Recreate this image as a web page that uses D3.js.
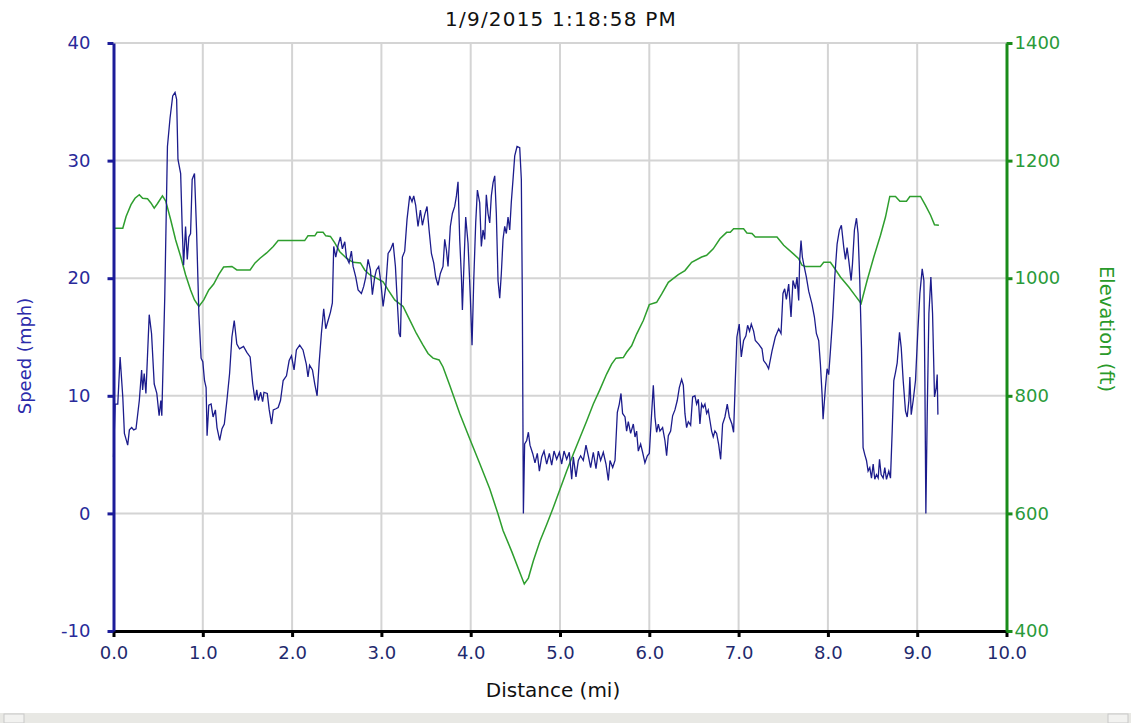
<!DOCTYPE html>
<html>
<head>
<meta charset="utf-8">
<script src="https://cdn.jsdelivr.net/npm/d3@7"></script>
<style>
  body { margin: 0; background: #fff; }
  text { font-family: "DejaVu Sans", Verdana, sans-serif; }
</style>
</head>
<body>
<div class="speed-figure"></div>
<script>
const w = 1131;
const h = 723;

// tick labels
const distTicks = [0, 1, 2, 3, 4, 5, 6, 7, 8, 9, 10];
const speedTicks = [-10, 0, 10, 20, 30, 40];
const elevTicks = [400, 600, 800, 1000, 1200, 1400];

// speed series (mi, mph)
const speedDist = [0.000, 0.019, 0.048, 0.074, 0.104, 0.122, 0.141, 0.159, 0.178, 0.204, 0.226, 0.252, 0.289, 0.315, 0.326, 0.344, 0.363, 0.400, 0.426, 0.456, 0.485, 0.511, 0.530, 0.541, 0.574, 0.604, 0.633, 0.663, 0.689, 0.707, 0.722, 0.752, 0.770, 0.785, 0.807, 0.826, 0.844, 0.863, 0.881, 0.907, 0.930, 0.956, 0.981, 1.000, 1.019, 1.037, 1.048, 1.067, 1.093, 1.115, 1.141, 1.159, 1.189, 1.215, 1.241, 1.270, 1.300, 1.326, 1.352, 1.381, 1.411, 1.456, 1.493, 1.530, 1.559, 1.585, 1.604, 1.622, 1.648, 1.670, 1.685, 1.722, 1.744, 1.770, 1.789, 1.819, 1.844, 1.870, 1.900, 1.937, 1.967, 1.993, 2.022, 2.048, 2.085, 2.122, 2.159, 2.178, 2.196,
  2.228, 2.254, 2.280, 2.302, 2.328, 2.354, 2.377, 2.403, 2.429, 2.451, 2.466, 2.489, 2.515, 2.541, 2.563, 2.590, 2.608, 2.638, 2.664, 2.683, 2.713, 2.739, 2.776, 2.802, 2.825, 2.851, 2.877, 2.899, 2.925, 2.944, 2.970, 2.993, 3.019, 3.049, 3.075, 3.101, 3.131, 3.157, 3.175, 3.198, 3.213, 3.235, 3.261, 3.287, 3.317, 3.343, 3.362, 3.384, 3.410, 3.437, 3.459, 3.485, 3.511, 3.534, 3.560, 3.586, 3.608, 3.634, 3.660, 3.690, 3.709, 3.728, 3.746, 3.772, 3.795, 3.821, 3.840, 3.858, 3.877, 3.896, 3.907, 3.925, 3.944, 3.970, 3.996, 4.015, 4.034, 4.056, 4.075, 4.101, 4.119, 4.138, 4.157, 4.175, 4.194, 4.213, 4.231, 4.250, 4.269, 4.287, 4.306, 4.325, 4.343, 4.362, 4.381, 4.399, 4.418, 4.437, 4.455, 4.474, 4.493, 4.519, 4.549, 4.567, 4.578, 4.590,
  4.604, 4.627, 4.646, 4.664, 4.694, 4.720, 4.746, 4.769, 4.795, 4.821, 4.851, 4.881, 4.907, 4.933, 4.963, 4.993, 5.019, 5.045, 5.075, 5.104, 5.131, 5.149, 5.179, 5.205, 5.231, 5.261, 5.291, 5.317, 5.343, 5.373, 5.403, 5.429, 5.455, 5.485, 5.515, 5.541, 5.560, 5.590, 5.616, 5.642, 5.664, 5.683, 5.701, 5.728, 5.746, 5.765, 5.791, 5.821, 5.840, 5.858, 5.877, 5.903, 5.925, 5.951, 5.978, 6.000, 6.019, 6.045, 6.063, 6.082, 6.101, 6.119, 6.149, 6.175, 6.194, 6.213, 6.239, 6.261, 6.287, 6.313, 6.336, 6.362, 6.381, 6.399, 6.418, 6.437, 6.463, 6.485, 6.511, 6.530, 6.549, 6.567, 6.586, 6.604, 6.623, 6.642, 6.660, 6.679, 6.698, 6.716, 6.735, 6.754, 6.776, 6.799, 6.821, 6.847, 6.873, 6.896,
  6.925, 6.944, 6.963, 6.981, 7.007, 7.030, 7.056, 7.082, 7.101, 7.123, 7.142, 7.168, 7.187, 7.224, 7.262, 7.280, 7.310, 7.336, 7.374, 7.411, 7.449, 7.475, 7.497, 7.516, 7.535, 7.561, 7.587, 7.609, 7.636, 7.654, 7.673, 7.684, 7.699, 7.714, 7.729, 7.759, 7.785, 7.822, 7.849, 7.871, 7.897, 7.916, 7.935, 7.946, 7.972, 7.991, 8.009, 8.028, 8.054, 8.077, 8.103, 8.129, 8.151, 8.178, 8.196, 8.215, 8.234, 8.260, 8.275, 8.297, 8.320, 8.338, 8.357, 8.376, 8.394, 8.413, 8.432, 8.450, 8.469, 8.488, 8.507, 8.525, 8.544, 8.563, 8.578, 8.596, 8.619, 8.637, 8.656, 8.682, 8.701, 8.720, 8.738, 8.757, 8.776, 8.802, 8.821, 8.843, 8.869, 8.888, 8.907, 8.918, 8.933, 8.955, 8.981, 9.007, 9.030, 9.056, 9.075, 9.086, 9.097, 9.112, 9.131, 9.153, 9.172, 9.194, 9.213, 9.224, 9.232];
const speedMph = [4.8, 9.3, 9.3, 13.3, 9.9, 6.8, 6.3, 5.8, 7.1, 7.3, 7.1, 7.2, 9.6, 12.2, 10.5, 11.9, 10.2, 16.9, 15.3, 11.0, 10.2, 8.3, 9.6, 8.3, 18.4, 31.2, 33.6, 35.5, 35.8, 35.2, 30.1, 28.9, 24.1, 21.1, 24.4, 21.6, 23.5, 23.8, 28.4, 28.9, 24.1, 17.0, 13.2, 12.9, 11.3, 10.7, 6.6, 9.2, 9.3, 8.2, 8.8, 7.3, 6.2, 7.2, 7.6, 9.6, 11.9, 15.0, 16.4, 14.4, 14.0, 14.2, 13.7, 13.3, 11.0, 9.6, 10.5, 9.6, 10.3, 9.5, 10.3, 10.2, 8.8, 7.6, 8.8, 8.9, 9.0, 9.6, 11.3, 11.7, 13.0, 13.4, 12.2, 13.9, 14.3, 13.9, 12.7, 11.6, 12.6,
  12.2, 11.0, 10.0, 12.7, 15.3, 17.4, 15.7, 16.4, 17.1, 17.9, 22.7, 21.8, 22.8, 23.5, 22.5, 23.1, 21.8, 21.3, 22.3, 21.0, 20.1, 19.0, 18.7, 19.3, 20.1, 21.6, 20.7, 18.6, 20.1, 20.7, 21.0, 19.7, 17.6, 19.3, 22.1, 22.4, 23.0, 21.0, 18.4, 15.3, 15.0, 21.8, 22.3, 25.0, 27.0, 26.5, 27.0, 26.2, 24.4, 25.8, 24.5, 25.4, 26.1, 24.1, 22.1, 21.3, 20.1, 19.4, 20.4, 21.0, 23.3, 22.4, 21.0, 24.4, 25.5, 26.1, 27.0, 28.2, 23.3, 20.1, 17.3, 21.3, 25.2, 23.0, 18.4, 14.3, 19.8, 24.7, 27.5, 26.4, 22.7, 24.1, 23.3, 27.1, 25.5, 24.7, 27.0, 28.1, 28.7, 25.5, 19.8, 18.3, 20.4, 23.3, 24.4, 23.8, 25.2, 24.1, 26.5, 28.4, 30.4, 31.2, 31.1, 28.4, 18.4, 0.0,
  5.9, 6.2, 6.9, 5.8, 5.1, 4.3, 5.1, 3.6, 4.8, 5.3, 4.2, 5.1, 4.1, 5.3, 4.6, 5.2, 4.2, 5.3, 4.6, 5.2, 2.9, 4.8, 3.1, 4.5, 4.9, 4.5, 5.8, 4.9, 3.9, 5.2, 3.8, 5.3, 4.5, 5.2, 4.2, 2.8, 4.5, 3.9, 4.5, 8.6, 9.3, 10.2, 8.5, 8.2, 7.0, 7.8, 6.8, 7.6, 6.5, 7.0, 5.3, 5.9, 5.2, 4.3, 4.9, 5.1, 7.6, 10.9, 8.2, 6.9, 7.6, 7.0, 7.3, 6.2, 4.9, 6.6, 7.0, 8.3, 8.8, 9.6, 10.7, 11.4, 10.9, 8.5, 7.3, 7.8, 7.5, 9.9, 10.0, 9.3, 9.7, 7.6, 9.3, 9.0, 9.3, 8.5, 8.8, 7.9, 7.0, 6.5, 7.0, 6.8, 5.9, 4.6, 7.6, 8.2, 9.3, 8.2,
  7.6, 6.9, 11.3, 15.0, 16.1, 13.3, 14.7, 15.1, 16.0, 15.5, 16.1, 15.5, 14.7, 14.4, 14.0, 13.0, 12.7, 12.3, 13.8, 15.0, 15.7, 15.3, 18.7, 19.1, 18.2, 19.5, 16.7, 19.8, 19.1, 20.1, 18.1, 21.5, 23.2, 21.8, 21.2, 20.1, 18.9, 17.8, 16.7, 15.3, 14.7, 12.7, 10.1, 8.0, 10.7, 12.3, 11.8, 13.8, 16.7, 20.1, 22.9, 24.1, 24.5, 22.6, 21.6, 22.6, 21.5, 19.8, 21.2, 24.1, 25.1, 23.8, 19.8, 14.1, 5.6, 5.0, 4.5, 3.6, 3.9, 3.0, 4.2, 2.9, 3.3, 3.0, 4.6, 3.3, 3.0, 3.9, 2.9, 3.6, 3.0, 7.0, 11.3, 12.0, 12.8, 15.4, 14.1, 11.3, 8.7, 8.2, 9.6, 11.6, 8.4, 9.6, 11.3, 15.5, 18.7, 20.8, 19.8, 11.3, 0.0, 8.4, 17.0, 20.1, 17.0, 9.9, 10.7, 11.8, 8.4];

// elevation series (mi, ft)
const elevDist = [0.000, 0.104, 0.141, 0.196, 0.241, 0.289, 0.326, 0.381, 0.419, 0.456, 0.493, 0.548, 0.585, 0.641, 0.696, 0.752, 0.807, 0.863, 0.907, 0.956, 1.011, 1.067, 1.122, 1.178, 1.233, 1.326, 1.381, 1.530, 1.585, 1.641, 1.715, 1.789, 1.844, 2.141, 2.178,
  2.254, 2.280, 2.347, 2.377, 2.429, 2.478, 2.534, 2.608, 2.683, 2.765, 2.813, 2.869, 2.944, 3.019, 3.075, 3.149, 3.243, 3.317, 3.392, 3.466, 3.522, 3.578, 3.646, 3.690, 3.765, 3.877, 3.989, 4.101, 4.213, 4.306, 4.362,
  4.460, 4.600, 4.646, 4.701, 4.776, 4.851, 4.925, 5.000, 5.075, 5.149, 5.224, 5.299, 5.373, 5.448, 5.522, 5.578, 5.627, 5.709, 5.746, 5.802, 5.858, 5.933, 6.000, 6.082, 6.138, 6.213, 6.325, 6.399, 6.474, 6.586, 6.642, 6.716, 6.791, 6.866,
  6.907, 6.944, 7.056, 7.093, 7.150, 7.187, 7.430, 7.505, 7.617, 7.673, 7.710, 7.748, 7.916, 7.953, 8.028, 8.065, 8.140, 8.234, 8.308, 8.372, 8.439, 8.514, 8.589, 8.645, 8.693, 8.757, 8.806, 8.880, 8.918, 9.037, 9.093, 9.150, 9.194, 9.243];
const elevFt = [1085, 1085, 1105, 1125, 1136, 1142, 1136, 1135, 1128, 1119, 1127, 1140, 1131, 1099, 1065, 1037, 1006, 980, 963, 952, 963, 980, 990, 1006, 1019, 1020, 1014, 1014, 1026, 1034, 1043, 1054, 1064, 1064, 1072,
  1072, 1078, 1078, 1072, 1071, 1060, 1045, 1034, 1027, 1026, 1014, 1006, 1000, 994, 980, 963, 952, 929, 906, 886, 872, 864, 861, 849, 818, 770, 727, 685, 642, 599, 571,
  535, 480, 490, 519, 553, 581, 610, 641, 672, 701, 729, 757, 786, 811, 837, 854, 864, 865, 874, 885, 905, 928, 955, 959, 973, 993, 1006, 1013, 1027, 1036, 1039, 1050, 1067, 1078,
  1078, 1084, 1084, 1077, 1076, 1070, 1070, 1056, 1041, 1033, 1022, 1020, 1020, 1027, 1027, 1019, 1002, 985, 970, 957, 996, 1036, 1073, 1104, 1139, 1139, 1131, 1131, 1139, 1139, 1124, 1107, 1091, 1090];

const speed = speedDist.map((d, i) => ({ dist: d, value: speedMph[i] }));
const elev = elevDist.map((d, i) => ({ dist: d, value: elevFt[i] }));

let svg = d3.select("body").select(".speed-figure")
    .append("svg")
    .attr("width", w)
    .attr("height", h);

svg.append("rect").attr("width", w).attr("height", h).attr("fill", "#fff");

let x = d3.scaleLinear().domain([0, 10]).range([113.5, 1006.5]);
let y = d3.scaleLinear().domain([-10, 40]).range([631, 43]);
let y2 = d3.scaleLinear().domain([400, 1400]).range([631, 43]);

// grid
svg.append("g")
    .selectAll("line")
    .data(distTicks.slice(1, -1))
    .enter()
    .append("line")
    .attr("x1", (d) => x(d)).attr("x2", (d) => x(d))
    .attr("y1", y(40)).attr("y2", y(-10))
    .attr("stroke", "#d4d4d4").attr("stroke-width", 2);

svg.append("g")
    .selectAll("line")
    .data(speedTicks.slice(1))
    .enter()
    .append("line")
    .attr("x1", x(0)).attr("x2", x(10))
    .attr("y1", (d) => y(d)).attr("y2", (d) => y(d))
    .attr("stroke", "#d4d4d4").attr("stroke-width", 2);

// lines
let speedLine = d3.line().x((d) => x(d.dist)).y((d) => y(d.value));
let elevLine = d3.line().x((d) => x(d.dist)).y((d) => y2(d.value));

svg.append("path")
    .datum(elev)
    .attr("d", elevLine)
    .attr("fill", "none")
    .attr("stroke", "#2e9e2e")
    .attr("stroke-width", 1.5);

svg.append("path")
    .datum(speed)
    .attr("d", speedLine)
    .attr("fill", "none")
    .attr("stroke", "#1c1c8c")
    .attr("stroke-width", 1.3);

// axes
let gx = svg.append("g")
    .attr("transform", "translate(0," + y(-10) + ")")
    .call(d3.axisBottom(x).tickValues(distTicks).tickFormat(d3.format(".1f")).tickSize(6).tickSizeOuter(0));
gx.select(".domain").attr("stroke", "#000").attr("stroke-width", 3);
gx.selectAll(".tick line").attr("stroke", "#000").attr("stroke-width", 3);
gx.selectAll(".tick text").attr("fill", "#1f2a6e").attr("font-size", 18)
    .attr("font-family", "DejaVu Sans").attr("dy", "1.05em");

let gl = svg.append("g")
    .attr("transform", "translate(" + x(0) + ",0)")
    .call(d3.axisLeft(y).tickValues(speedTicks).tickFormat((d) => String(d)).tickSize(6).tickSizeOuter(0));
gl.select(".domain").attr("stroke", "#1c1c99").attr("stroke-width", 3);
gl.selectAll(".tick line").attr("stroke", "#1c1c99").attr("stroke-width", 3);
gl.selectAll(".tick text").attr("fill", "#2a2a9a").attr("font-size", 18)
    .attr("font-family", "DejaVu Sans").attr("x", -23);

let gr = svg.append("g")
    .attr("transform", "translate(" + x(10) + ",0)")
    .call(d3.axisRight(y2).tickValues(elevTicks).tickFormat((d) => String(d)).tickSize(6).tickSizeOuter(0));
gr.select(".domain").attr("stroke", "#1a8c1a").attr("stroke-width", 3);
gr.selectAll(".tick line").attr("stroke", "#1a8c1a").attr("stroke-width", 3);
gr.selectAll(".tick text").attr("fill", "#2a9a3a").attr("font-size", 18)
    .attr("font-family", "DejaVu Sans").attr("x", 8);

// titles
svg.append("text")
    .attr("x", 561).attr("y", 26)
    .attr("text-anchor", "middle")
    .attr("font-size", 20)
    .attr("letter-spacing", 1.2)
    .attr("fill", "#111")
    .text("1/9/2015 1:18:58 PM");

svg.append("text")
    .attr("x", 553).attr("y", 697)
    .attr("text-anchor", "middle")
    .attr("font-size", 20)
    .attr("fill", "#111")
    .text("Distance (mi)");

svg.append("text")
    .attr("transform", "translate(31,356) rotate(-90)")
    .attr("text-anchor", "middle")
    .attr("font-size", 18)
    .attr("fill", "#2a2aaa")
    .text("Speed (mph)");

svg.append("text")
    .attr("transform", "translate(1100,329) rotate(90)")
    .attr("text-anchor", "middle")
    .attr("font-size", 19.5)
    .attr("fill", "#2a9a2a")
    .text("Elevation (ft)");

// scrollbar strip at the bottom
svg.append("rect").attr("x", 0).attr("y", 713).attr("width", w).attr("height", 10).attr("fill", "#e8e8e4");
svg.append("rect").attr("x", 4).attr("y", 714).attr("width", 20).attr("height", 9).attr("fill", "#f2f2f0").attr("stroke", "#c8c8c8");
svg.append("rect").attr("x", 1108).attr("y", 714).attr("width", 20).attr("height", 9).attr("fill", "#f2f2f0").attr("stroke", "#c8c8c8");
</script>
</body>
</html>
